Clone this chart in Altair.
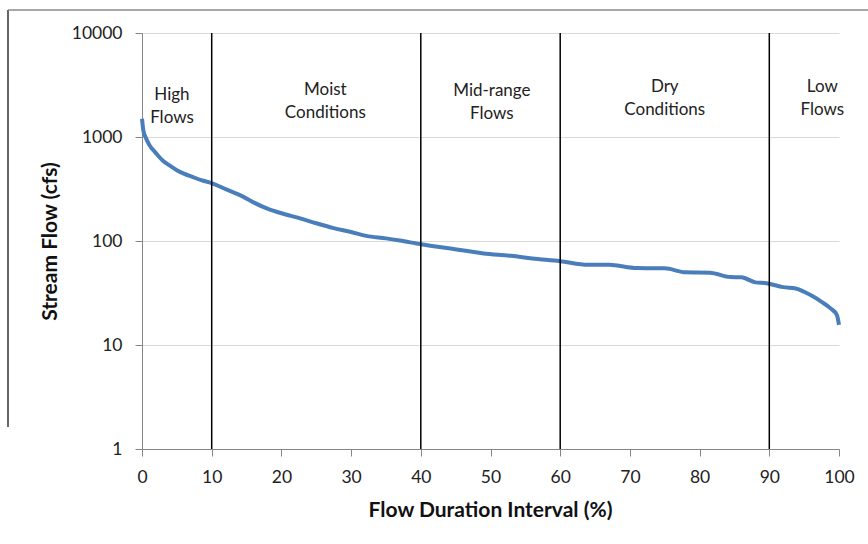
import altair as alt
import pandas as pd

# Flow duration curve
pct = [0, 0.2, 0.5, 1, 2, 3, 4, 5, 6, 7.3, 8.5, 10, 12, 14.5, 16, 17.9, 20, 22.7, 25, 27.5,
       30, 32.2, 35, 37, 40, 44, 49, 53, 56, 60, 64, 67, 71, 75, 78, 81.5, 84.4, 86, 88,
       89.6, 92, 93.8, 95, 96.3, 97.5, 98.8, 99.7, 100]
flow = [1500, 1150, 1000, 850, 700, 590, 530, 480, 445, 412, 385, 360, 315, 267, 235, 206,
        185, 165, 148, 133, 122, 112, 106, 101, 93, 85, 76, 72, 68, 64, 59, 59, 55, 54.6, 50,
        49.6, 45, 44.8, 40, 39.3, 36, 35, 32.5, 29.2, 26, 22.5, 19.4, 15.6]

# Zone boundaries
bounds = [10, 40, 60, 90]

# Zone labels
zone_labels = ["High\nFlows", "Moist\nConditions", "Mid-range\nFlows", "Dry\nConditions", "Low\nFlows"]
zone_x = [4.3, 26.3, 50.2, 75, 97.6]
zone_y = [2535, 2832, 2767, 3026, 3026]

x_ticks = [0, 10, 20, 30, 40, 50, 60, 70, 80, 90, 100]
y_ticks = [1, 10, 100, 1000, 10000]

FONT = "Lato"

curve_df = pd.DataFrame({"pct": pct, "flow": flow})
bounds_df = pd.DataFrame({"pct": bounds})
labels_df = pd.DataFrame({"pct": zone_x, "flow": zone_y, "label": zone_labels})
one_df = pd.DataFrame({"a": [0]})

xscale = alt.Scale(domain=[0, 100], nice=False, zero=False)
yscale = alt.Scale(type="log", domain=[1, 10000], nice=False)

x_axis = alt.Axis(values=x_ticks, title="Flow Duration Interval (%)", grid=False,
                  tickSize=7, labelPadding=12, labelFontSize=17.5, labelFont=FONT,
                  labelColor="#222222", labelFlush=False, titleFont=FONT, titleFontSize=21,
                  titleFontWeight="bold", titleColor="#111111",
                  titleX=348, titleY=61, titleBaseline="middle",
                  domainColor="#868686", tickColor="#868686")
y_axis = alt.Axis(values=y_ticks, format="d", title="Stream Flow (cfs)", grid=True,
                  gridColor="#d9d9d9", tickSize=7, labelPadding=13, labelFontSize=17.5,
                  labelFont=FONT, labelColor="#222222", labelFlush=False,
                  titleFont=FONT, titleFontSize=21,
                  titleFontWeight="bold", titleColor="#111111", titleX=-92, titleY=208,
                  titleAngle=-90, titleAlign="center", titleBaseline="middle",
                  domainColor="#868686", tickColor="#868686")

curve = alt.Chart(curve_df).mark_line(color="#4a7ebb", strokeWidth=4, interpolate="monotone").encode(
    x=alt.X("pct:Q", scale=xscale, axis=x_axis),
    y=alt.Y("flow:Q", scale=yscale, axis=y_axis),
)

rules = alt.Chart(bounds_df).mark_rule(color="#000000", strokeWidth=1.5).encode(
    x=alt.X("pct:Q", scale=xscale),
)

texts = alt.Chart(labels_df).mark_text(font=FONT, fontSize=17, color="#222222",
                                       lineBreak="\n", lineHeight=23,
                                       align="center", baseline="middle").encode(
    x=alt.X("pct:Q", scale=xscale),
    y=alt.Y("flow:Q", scale=yscale),
    text="label:N",
)

border_left = alt.Chart(one_df).mark_rule(color="#333333", strokeWidth=1.5).encode(
    x=alt.value(-134), y=alt.value(-23), y2=alt.value(394))
border_top = alt.Chart(one_df).mark_rule(color="#8a8a8a", strokeWidth=1.5).encode(
    x=alt.value(-134), x2=alt.value(740), y=alt.value(-23))

chart = alt.layer(curve, rules, texts, border_left, border_top).properties(
    width=697, height=416,
    autosize=alt.AutoSizeParams(type="none"),
    padding={"left": 142, "top": 33, "right": 29, "bottom": 95},
    background="white",
).configure_view(stroke=None)

chart.save("out.html", embed_options={"renderer": "svg", "actions": False})
